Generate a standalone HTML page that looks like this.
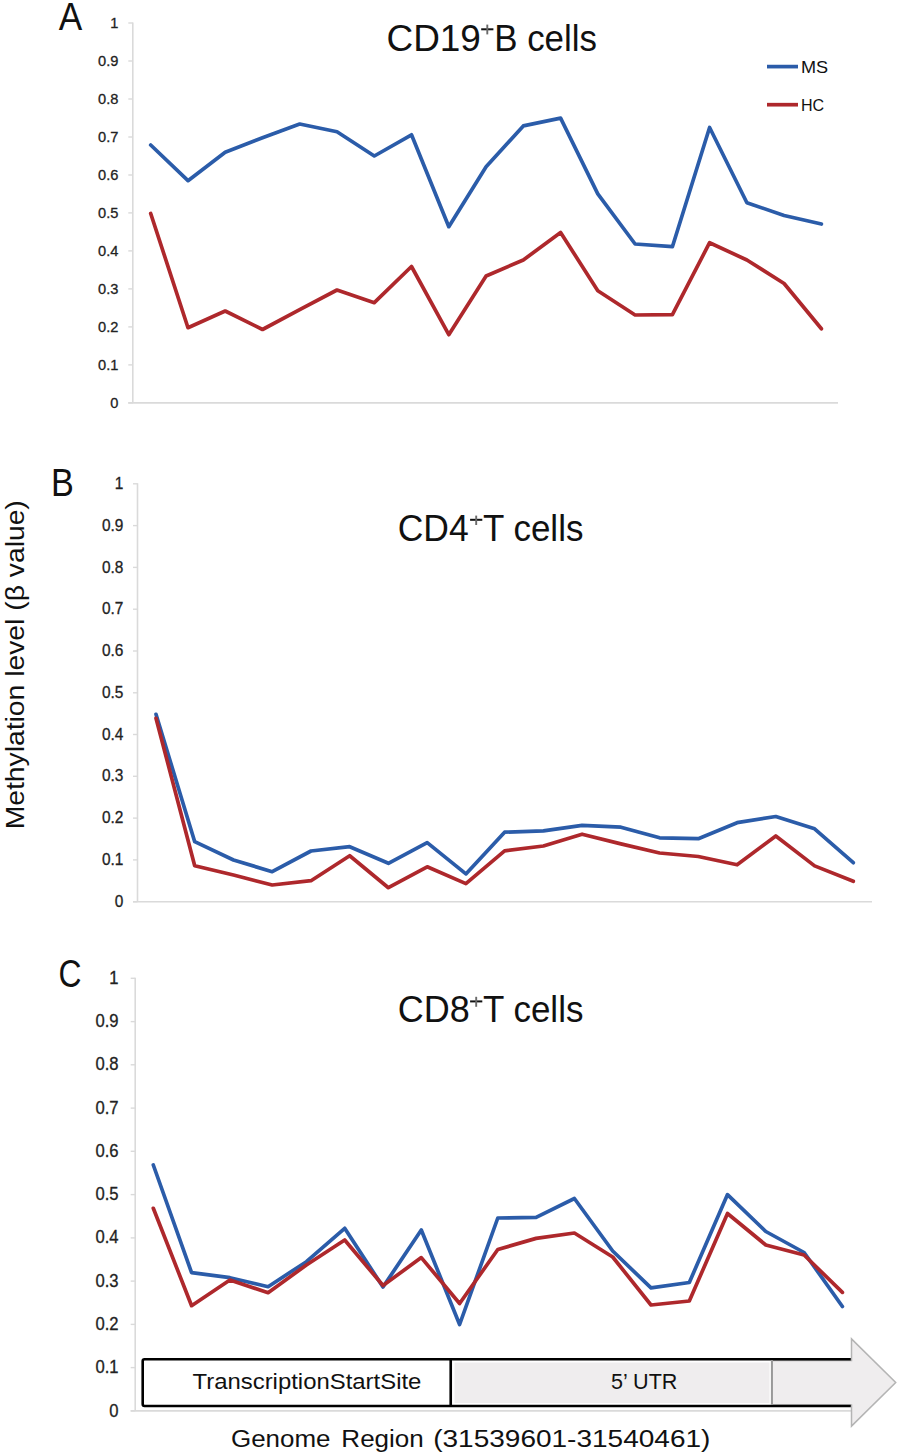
<!DOCTYPE html>
<html><head><meta charset="utf-8"><style>
html,body{margin:0;padding:0;background:#fff;}
body{width:900px;height:1456px;overflow:hidden;}
svg{display:block;}
.t{font-family:"Liberation Sans",sans-serif;fill:#111;}
.tk{font-family:"Liberation Sans",sans-serif;fill:#222;stroke:#222;stroke-width:0.3px;}
</style></head><body>
<svg width="900" height="1456" viewBox="0 0 900 1456">
<rect width="900" height="1456" fill="#fff"/>
<line x1="132.8" y1="22.5" x2="132.8" y2="402.9" stroke="#dadada" stroke-width="1.6"/>
<line x1="128.3" y1="402.9" x2="838" y2="402.9" stroke="#dadada" stroke-width="1.6"/>
<line x1="128.3" y1="402.9" x2="132.8" y2="402.9" stroke="#dadada" stroke-width="1.4"/>
<text x="118.4" y="407.7" font-size="15.48" text-anchor="end" textLength="8.13" lengthAdjust="spacingAndGlyphs" class="tk">0</text>
<line x1="128.3" y1="364.9" x2="132.8" y2="364.9" stroke="#dadada" stroke-width="1.4"/>
<text x="118.4" y="369.7" font-size="15.48" text-anchor="end" textLength="20.33" lengthAdjust="spacingAndGlyphs" class="tk">0.1</text>
<line x1="128.3" y1="326.9" x2="132.8" y2="326.9" stroke="#dadada" stroke-width="1.4"/>
<text x="118.4" y="331.7" font-size="15.48" text-anchor="end" textLength="20.33" lengthAdjust="spacingAndGlyphs" class="tk">0.2</text>
<line x1="128.3" y1="288.9" x2="132.8" y2="288.9" stroke="#dadada" stroke-width="1.4"/>
<text x="118.4" y="293.8" font-size="15.48" text-anchor="end" textLength="20.33" lengthAdjust="spacingAndGlyphs" class="tk">0.3</text>
<line x1="128.3" y1="250.9" x2="132.8" y2="250.9" stroke="#dadada" stroke-width="1.4"/>
<text x="118.4" y="255.8" font-size="15.48" text-anchor="end" textLength="20.33" lengthAdjust="spacingAndGlyphs" class="tk">0.4</text>
<line x1="128.3" y1="212.9" x2="132.8" y2="212.9" stroke="#dadada" stroke-width="1.4"/>
<text x="118.4" y="217.8" font-size="15.48" text-anchor="end" textLength="20.33" lengthAdjust="spacingAndGlyphs" class="tk">0.5</text>
<line x1="128.3" y1="175.0" x2="132.8" y2="175.0" stroke="#dadada" stroke-width="1.4"/>
<text x="118.4" y="179.8" font-size="15.48" text-anchor="end" textLength="20.33" lengthAdjust="spacingAndGlyphs" class="tk">0.6</text>
<line x1="128.3" y1="137.0" x2="132.8" y2="137.0" stroke="#dadada" stroke-width="1.4"/>
<text x="118.4" y="141.8" font-size="15.48" text-anchor="end" textLength="20.33" lengthAdjust="spacingAndGlyphs" class="tk">0.7</text>
<line x1="128.3" y1="99.0" x2="132.8" y2="99.0" stroke="#dadada" stroke-width="1.4"/>
<text x="118.4" y="103.8" font-size="15.48" text-anchor="end" textLength="20.33" lengthAdjust="spacingAndGlyphs" class="tk">0.8</text>
<line x1="128.3" y1="61.0" x2="132.8" y2="61.0" stroke="#dadada" stroke-width="1.4"/>
<text x="118.4" y="65.8" font-size="15.48" text-anchor="end" textLength="20.33" lengthAdjust="spacingAndGlyphs" class="tk">0.9</text>
<line x1="128.3" y1="23.0" x2="132.8" y2="23.0" stroke="#dadada" stroke-width="1.4"/>
<text x="118.4" y="27.8" font-size="15.48" text-anchor="end" textLength="8.13" lengthAdjust="spacingAndGlyphs" class="tk">1</text>
<line x1="137.5" y1="483.3" x2="137.5" y2="901.7" stroke="#dadada" stroke-width="1.6"/>
<line x1="133.0" y1="901.7" x2="872" y2="901.7" stroke="#dadada" stroke-width="1.6"/>
<line x1="133.0" y1="901.7" x2="137.5" y2="901.7" stroke="#dadada" stroke-width="1.4"/>
<text x="123.4" y="906.8" font-size="16.32" text-anchor="end" textLength="8.58" lengthAdjust="spacingAndGlyphs" class="tk">0</text>
<line x1="133.0" y1="859.9" x2="137.5" y2="859.9" stroke="#dadada" stroke-width="1.4"/>
<text x="123.4" y="865.0" font-size="16.32" text-anchor="end" textLength="21.44" lengthAdjust="spacingAndGlyphs" class="tk">0.1</text>
<line x1="133.0" y1="818.1" x2="137.5" y2="818.1" stroke="#dadada" stroke-width="1.4"/>
<text x="123.4" y="823.2" font-size="16.32" text-anchor="end" textLength="21.44" lengthAdjust="spacingAndGlyphs" class="tk">0.2</text>
<line x1="133.0" y1="776.3" x2="137.5" y2="776.3" stroke="#dadada" stroke-width="1.4"/>
<text x="123.4" y="781.4" font-size="16.32" text-anchor="end" textLength="21.44" lengthAdjust="spacingAndGlyphs" class="tk">0.3</text>
<line x1="133.0" y1="734.5" x2="137.5" y2="734.5" stroke="#dadada" stroke-width="1.4"/>
<text x="123.4" y="739.7" font-size="16.32" text-anchor="end" textLength="21.44" lengthAdjust="spacingAndGlyphs" class="tk">0.4</text>
<line x1="133.0" y1="692.8" x2="137.5" y2="692.8" stroke="#dadada" stroke-width="1.4"/>
<text x="123.4" y="697.9" font-size="16.32" text-anchor="end" textLength="21.44" lengthAdjust="spacingAndGlyphs" class="tk">0.5</text>
<line x1="133.0" y1="651.0" x2="137.5" y2="651.0" stroke="#dadada" stroke-width="1.4"/>
<text x="123.4" y="656.1" font-size="16.32" text-anchor="end" textLength="21.44" lengthAdjust="spacingAndGlyphs" class="tk">0.6</text>
<line x1="133.0" y1="609.2" x2="137.5" y2="609.2" stroke="#dadada" stroke-width="1.4"/>
<text x="123.4" y="614.3" font-size="16.32" text-anchor="end" textLength="21.44" lengthAdjust="spacingAndGlyphs" class="tk">0.7</text>
<line x1="133.0" y1="567.4" x2="137.5" y2="567.4" stroke="#dadada" stroke-width="1.4"/>
<text x="123.4" y="572.5" font-size="16.32" text-anchor="end" textLength="21.44" lengthAdjust="spacingAndGlyphs" class="tk">0.8</text>
<line x1="133.0" y1="525.6" x2="137.5" y2="525.6" stroke="#dadada" stroke-width="1.4"/>
<text x="123.4" y="530.7" font-size="16.32" text-anchor="end" textLength="21.44" lengthAdjust="spacingAndGlyphs" class="tk">0.9</text>
<line x1="133.0" y1="483.8" x2="137.5" y2="483.8" stroke="#dadada" stroke-width="1.4"/>
<text x="123.4" y="488.9" font-size="16.32" text-anchor="end" textLength="8.58" lengthAdjust="spacingAndGlyphs" class="tk">1</text>
<line x1="135.2" y1="977.8" x2="135.2" y2="1410.9" stroke="#dadada" stroke-width="1.6"/>
<line x1="130.7" y1="1410.9" x2="852" y2="1410.9" stroke="#dadada" stroke-width="1.6"/>
<line x1="130.7" y1="1410.9" x2="135.2" y2="1410.9" stroke="#dadada" stroke-width="1.4"/>
<text x="118.6" y="1416.5" font-size="17.60" text-anchor="end" textLength="9.25" lengthAdjust="spacingAndGlyphs" class="tk">0</text>
<line x1="130.7" y1="1367.6" x2="135.2" y2="1367.6" stroke="#dadada" stroke-width="1.4"/>
<text x="118.6" y="1373.2" font-size="17.60" text-anchor="end" textLength="23.12" lengthAdjust="spacingAndGlyphs" class="tk">0.1</text>
<line x1="130.7" y1="1324.4" x2="135.2" y2="1324.4" stroke="#dadada" stroke-width="1.4"/>
<text x="118.6" y="1329.9" font-size="17.60" text-anchor="end" textLength="23.12" lengthAdjust="spacingAndGlyphs" class="tk">0.2</text>
<line x1="130.7" y1="1281.1" x2="135.2" y2="1281.1" stroke="#dadada" stroke-width="1.4"/>
<text x="118.6" y="1286.7" font-size="17.60" text-anchor="end" textLength="23.12" lengthAdjust="spacingAndGlyphs" class="tk">0.3</text>
<line x1="130.7" y1="1237.9" x2="135.2" y2="1237.9" stroke="#dadada" stroke-width="1.4"/>
<text x="118.6" y="1243.4" font-size="17.60" text-anchor="end" textLength="23.12" lengthAdjust="spacingAndGlyphs" class="tk">0.4</text>
<line x1="130.7" y1="1194.6" x2="135.2" y2="1194.6" stroke="#dadada" stroke-width="1.4"/>
<text x="118.6" y="1200.2" font-size="17.60" text-anchor="end" textLength="23.12" lengthAdjust="spacingAndGlyphs" class="tk">0.5</text>
<line x1="130.7" y1="1151.3" x2="135.2" y2="1151.3" stroke="#dadada" stroke-width="1.4"/>
<text x="118.6" y="1156.9" font-size="17.60" text-anchor="end" textLength="23.12" lengthAdjust="spacingAndGlyphs" class="tk">0.6</text>
<line x1="130.7" y1="1108.1" x2="135.2" y2="1108.1" stroke="#dadada" stroke-width="1.4"/>
<text x="118.6" y="1113.6" font-size="17.60" text-anchor="end" textLength="23.12" lengthAdjust="spacingAndGlyphs" class="tk">0.7</text>
<line x1="130.7" y1="1064.8" x2="135.2" y2="1064.8" stroke="#dadada" stroke-width="1.4"/>
<text x="118.6" y="1070.4" font-size="17.60" text-anchor="end" textLength="23.12" lengthAdjust="spacingAndGlyphs" class="tk">0.8</text>
<line x1="130.7" y1="1021.6" x2="135.2" y2="1021.6" stroke="#dadada" stroke-width="1.4"/>
<text x="118.6" y="1027.1" font-size="17.60" text-anchor="end" textLength="23.12" lengthAdjust="spacingAndGlyphs" class="tk">0.9</text>
<line x1="130.7" y1="978.3" x2="135.2" y2="978.3" stroke="#dadada" stroke-width="1.4"/>
<text x="118.6" y="983.9" font-size="17.60" text-anchor="end" textLength="9.25" lengthAdjust="spacingAndGlyphs" class="tk">1</text>
<polyline points="150.7,145.0 188.0,180.7 225.2,152.3 262.5,137.7 299.7,124.0 337.0,131.7 374.3,156.0 411.5,134.8 448.8,226.7 486.1,166.7 523.3,125.9 560.6,118.1 597.8,193.9 635.1,244.0 672.4,246.7 709.6,127.5 746.9,202.7 784.1,215.5 821.4,224.0" fill="none" stroke="#2b5ca9" stroke-width="3.7" stroke-linejoin="round" stroke-linecap="round"/>
<polyline points="150.7,213.5 188.0,327.7 225.2,311.0 262.5,329.5 299.7,309.6 337.0,290.0 374.3,302.7 411.5,266.5 448.8,334.7 486.1,276.0 523.3,260.0 560.6,232.5 597.8,290.7 635.1,315.0 672.4,314.7 709.6,242.7 746.9,260.0 784.1,283.5 821.4,328.8" fill="none" stroke="#ae282c" stroke-width="3.7" stroke-linejoin="round" stroke-linecap="round"/>
<polyline points="156.0,714.3 194.7,841.7 233.5,860.0 272.2,871.7 311.0,851.0 349.7,846.7 388.4,863.3 427.2,842.6 465.9,873.9 504.6,832.2 543.4,830.8 582.1,825.3 620.9,827.2 659.6,837.8 698.3,838.7 737.1,822.7 775.8,816.5 814.6,828.8 853.3,862.7" fill="none" stroke="#2b5ca9" stroke-width="3.7" stroke-linejoin="round" stroke-linecap="round"/>
<polyline points="156.0,718.3 194.7,865.7 233.5,875.0 272.2,885.0 311.0,880.7 349.7,855.7 388.4,887.7 427.2,866.8 465.9,883.6 504.6,850.8 543.4,846.0 582.1,834.2 620.9,843.9 659.6,853.0 698.3,856.5 737.1,864.8 775.8,836.0 814.6,865.9 853.3,881.3" fill="none" stroke="#ae282c" stroke-width="3.7" stroke-linejoin="round" stroke-linecap="round"/>
<polyline points="153.3,1165.0 191.6,1272.7 229.9,1277.7 268.1,1286.7 306.4,1261.7 344.7,1228.3 383.0,1287.0 421.3,1230.0 459.6,1324.5 497.8,1218.0 536.1,1217.4 574.4,1198.5 612.7,1251.0 651.0,1287.9 689.3,1282.5 727.5,1194.6 765.8,1231.5 804.1,1252.5 842.4,1306.5" fill="none" stroke="#2b5ca9" stroke-width="3.7" stroke-linejoin="round" stroke-linecap="round"/>
<polyline points="153.3,1208.3 191.6,1305.7 229.9,1280.0 268.1,1292.7 306.4,1265.0 344.7,1240.0 383.0,1285.5 421.3,1257.6 459.6,1303.5 497.8,1249.5 536.1,1238.4 574.4,1233.0 612.7,1257.0 651.0,1305.0 689.3,1301.0 727.5,1213.5 765.8,1245.0 804.1,1255.0 842.4,1292.4" fill="none" stroke="#ae282c" stroke-width="3.7" stroke-linejoin="round" stroke-linecap="round"/>
<path d="M772 1360.5 H851.5 V1338.9 L895.7 1382.5 L851.5 1426.1 V1405 H772 Z" fill="#efedee" stroke="#b4b4b4" stroke-width="1.5" stroke-linejoin="miter"/>
<rect x="452" y="1360.5" width="320" height="44.5" fill="#efedee"/>
<rect x="453.5" y="1361.5" width="317" height="42.5" fill="none" stroke="#ffffff" stroke-width="2"/>
<rect x="143" y="1360" width="307" height="45.5" fill="#ffffff"/>
<path d="M850.8 1359.2 H144.5 Q142.7 1359.2 142.7 1361 V1404 Q142.7 1406 144.5 1406 H850.8" fill="none" stroke="#000" stroke-width="2.6"/>
<line x1="450.7" y1="1359" x2="450.7" y2="1406" stroke="#000" stroke-width="2.6"/>
<line x1="771.9" y1="1360" x2="771.9" y2="1405" stroke="#999" stroke-width="2"/>
<text x="58.66" y="30.30" font-size="38.5" textLength="23.47" lengthAdjust="spacingAndGlyphs" class="t">A</text>
<text x="51.10" y="496.00" font-size="38.5" textLength="22.84" lengthAdjust="spacingAndGlyphs" class="t">B</text>
<text x="58.50" y="986.80" font-size="39" textLength="23.00" lengthAdjust="spacingAndGlyphs" class="t">C</text>
<text x="386.48" y="50.60" font-size="37.5" textLength="94.45" lengthAdjust="spacingAndGlyphs" class="t">CD19</text>
<text x="494.20" y="50.60" font-size="37.5" textLength="102.80" lengthAdjust="spacingAndGlyphs" class="t">B cells</text>
<text x="397.69" y="540.70" font-size="37.5" textLength="71.01" lengthAdjust="spacingAndGlyphs" class="t">CD4</text>
<text x="483.00" y="540.70" font-size="37.5" textLength="100.40" lengthAdjust="spacingAndGlyphs" class="t">T cells</text>
<text x="397.67" y="1021.50" font-size="37.5" textLength="72.06" lengthAdjust="spacingAndGlyphs" class="t">CD8</text>
<text x="483.00" y="1021.50" font-size="37.5" textLength="100.40" lengthAdjust="spacingAndGlyphs" class="t">T cells</text>
<text x="800.91" y="72.80" font-size="17" textLength="27.17" lengthAdjust="spacingAndGlyphs" class="t">MS</text>
<text x="800.89" y="110.80" font-size="17" textLength="23.21" lengthAdjust="spacingAndGlyphs" class="t">HC</text>
<text x="230.97" y="1447.00" font-size="23.5" textLength="99.46" lengthAdjust="spacingAndGlyphs" class="t">Genome</text>
<text x="341.33" y="1447.00" font-size="23.5" textLength="82.50" lengthAdjust="spacingAndGlyphs" class="t">Region</text>
<text x="433.18" y="1447.00" font-size="23.5" textLength="277.24" lengthAdjust="spacingAndGlyphs" class="t">(31539601-31540461)</text>
<text x="192.49" y="1389.00" font-size="21.8" textLength="228.91" lengthAdjust="spacingAndGlyphs" class="t">TranscriptionStartSite</text>
<text x="611.13" y="1389.30" font-size="21.5" textLength="66.32" lengthAdjust="spacingAndGlyphs" class="t">5’ UTR</text>
<line x1="481.2" y1="29.3" x2="493.4" y2="29.3" stroke="#111" stroke-width="2"/><line x1="487.3" y1="24.6" x2="487.3" y2="34.4" stroke="#6a6a6a" stroke-width="1.9"/>
<line x1="470.1" y1="519.8" x2="482.3" y2="519.8" stroke="#111" stroke-width="2"/><line x1="476.2" y1="515.6" x2="476.2" y2="525.0" stroke="#6a6a6a" stroke-width="1.9"/>
<line x1="470.1" y1="1001.4" x2="482.3" y2="1001.4" stroke="#111" stroke-width="2"/><line x1="476.2" y1="996.8" x2="476.2" y2="1006.8" stroke="#6a6a6a" stroke-width="1.9"/>
<line x1="767" y1="66.6" x2="798" y2="66.6" stroke="#2b5ca9" stroke-width="3.7"/>
<line x1="767" y1="104.7" x2="798" y2="104.7" stroke="#ae282c" stroke-width="3.7"/>
<text transform="translate(24 829.3) rotate(-90)" x="0" y="0" font-size="25.5" textLength="329.1" lengthAdjust="spacingAndGlyphs" class="t">Methylation level (β value)</text>
</svg>
</body></html>
